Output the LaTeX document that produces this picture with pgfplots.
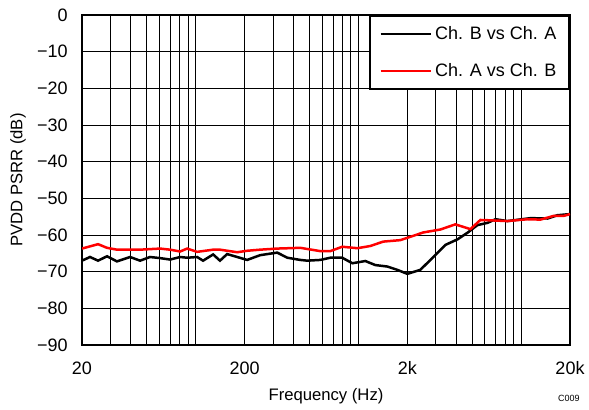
\documentclass[border=0pt]{standalone}
\usepackage{pgfplots}
\pgfplotsset{compat=1.18}
\usepackage{fontspec}
\setmainfont{Liberation Sans}

\begin{document}
\begin{tikzpicture}
\begin{axis}[
  scale only axis, width=292.8pt, height=198pt,
  xmode=log, xmin=20, xmax=20000, ymin=-90, ymax=0,
  xtick={20,200,2000,20000}, xticklabels={20,200,2k,20k},
  minor xtick={30,40,50,60,70,80,90,100,300,400,500,600,700,800,900,1000,3000,4000,5000,6000,7000,8000,9000,10000},
  ytick={-90,-80,-70,-60,-50,-40,-30,-20,-10,0},
  yticklabels={−90,−80,−70,−60,−50,−40,−30,−20,−10,0},
  grid=both,
  major grid style={black, line width=0.6pt},
  minor grid style={black, line width=0.6pt},
  axis line style={line width=1.2pt},
  major tick length=0pt, minor tick length=0pt,
  tick label style={font=\fontsize{10.8}{13}\selectfont},
  xticklabel style={anchor=center, yshift=-13.8pt},
  yticklabel style={anchor=east, inner sep=0pt, xshift=-8.4pt},
  label style={font=\fontsize{11}{13}\selectfont},
  xlabel={Frequency (Hz)},
  ylabel={PVDD PSRR (dB)},
  every axis x label/.style={at={(rel axis cs:0.5,0)}, yshift=-30.6pt, anchor=center},
  every axis y label/.style={at={(rel axis cs:0,0.5)}, xshift=-38.4pt, rotate=90, anchor=center},
  legend cell align=left,
  legend style={at={(rel axis cs:1,1)}, anchor=north east, draw=black, line width=1.2pt, fill=white,
    font=\fontsize{10.8}{13}\selectfont, inner xsep=5.5pt, inner ysep=4pt, row sep=9pt},
  legend image code/.code={\draw[#1] (0pt,0pt) -- (30pt,0pt);},
  clip=true,
]
\addplot[black, line width=1.5pt] table {
20 -67
22.4 -66
25.1 -67
28.5 -65.8
32.8 -67.2
39.5 -66
45.5 -67
52.4 -66
60.4 -66.3
69.6 -66.7
80.2 -66
88.6 -66.2
102 -66
111 -67
128 -65.3
141 -67
156 -65.2
180 -66
207 -66.8
249 -65.5
317 -64.8
366 -66.2
440 -66.8
485 -67
583 -66.8
672 -66.2
796 -66.2
918 -67.7
1104 -67.1
1271 -68.2
1507 -68.6
1734 -69.5
2000 -70.6
2404 -69.5
2891 -66
3428 -62.7
4063 -61.2
4678 -59.4
5396 -57.3
6210 -56.7
6966 -55.7
8246 -56.2
11430 -55.4
14550 -55.5
16750 -54.6
20000 -54.3
};
\addlegendentry{Ch. B vs Ch. A}
\addplot[red, line width=1.5pt] table {
20 -63.7
25.1 -62.5
28.5 -63.5
32.8 -64
45.5 -64
60.4 -63.7
69.6 -64
80.2 -64.5
88.6 -63.7
102 -64.6
128 -64
141 -64
180 -64.7
207 -64.3
249 -64
317 -63.7
440 -63.5
583 -64.4
672 -64.4
796 -63.2
985 -63.6
1184 -63
1423 -61.8
1812 -61.4
2085 -60.5
2508 -59.3
3192 -58.5
3945 -57.1
4886 -58.4
5625 -55.9
6490 -56
8246 -56.2
10940 -55.7
13160 -55.8
15830 -54.8
18250 -54.8
20000 -54.3
};
\addlegendentry{Ch. A vs Ch. B}
\end{axis}
\node[anchor=east, inner sep=0pt, font=\fontsize{5.4}{6}\selectfont] at (298.8pt,-31.8pt) {C009};
\pgfresetboundingbox
\path[use as bounding box] (-49.2pt,-39pt) rectangle (304.2pt,207pt);
\end{tikzpicture}
\end{document}
